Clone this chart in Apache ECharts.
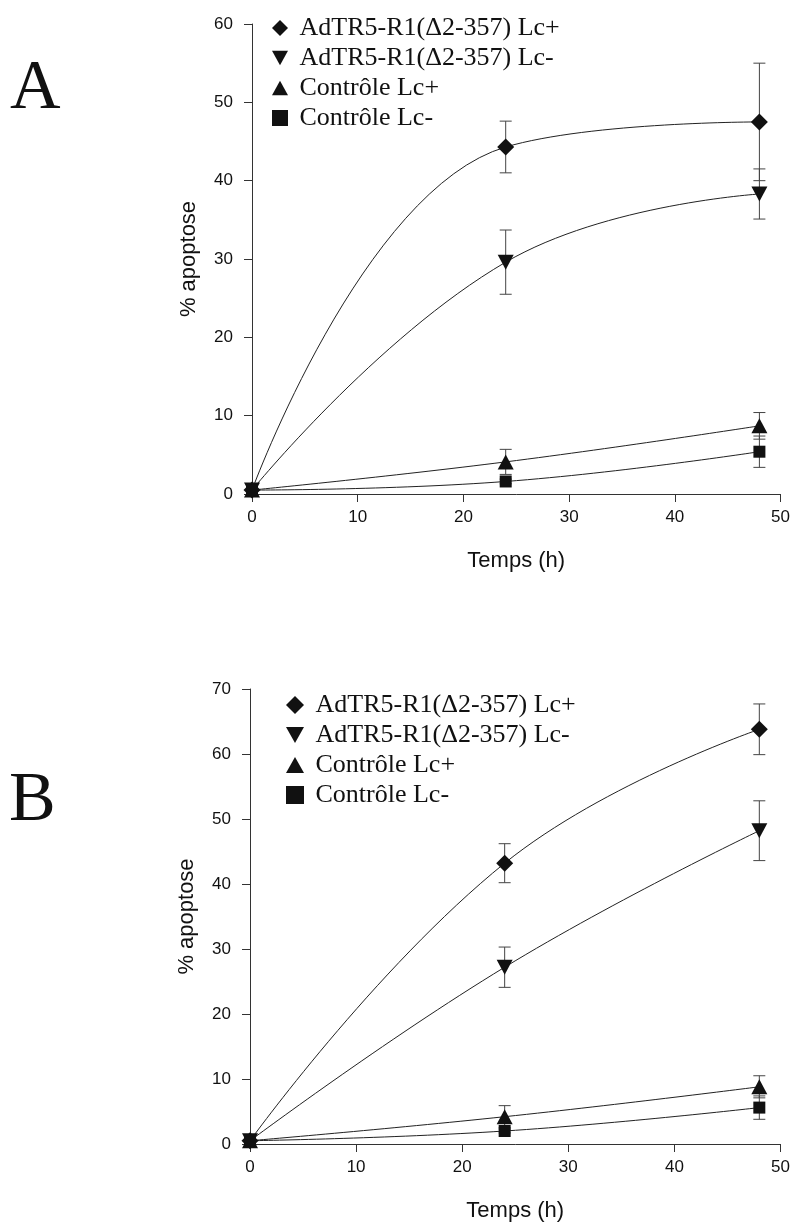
<!DOCTYPE html>
<html>
<head>
<meta charset="utf-8">
<script src="https://cdn.jsdelivr.net/npm/echarts@6/dist/echarts.min.js"></script>
<style>
html,body{margin:0;padding:0;background:#fff;}
#c{width:793px;height:1223px;}
</style>
</head>
<body>
<div id="c"></div>
<script>
// ---- data ----
const hours = [0, 24, 48];
const seriesNames = ['AdTR5-R1(\u03942-357) Lc+', 'AdTR5-R1(\u03942-357) Lc-', 'Contr\u00f4le Lc+', 'Contr\u00f4le Lc-'];

const A_lcPlus = [0.5, 44.3, 47.5];
const A_lcPlusErr = [0, 3.3, 7.5];
const A_lcMinus = [0.5, 29.6, 38.3];
const A_lcMinusErr = [0, 4.1, 3.2];
const A_ctrlPlus = [0.5, 4.1, 8.7];
const A_ctrlPlusErr = [0, 1.6, 1.7];
const A_ctrlMinus = [0.5, 1.6, 5.4];
const A_ctrlMinusErr = [0, 0.3, 2.0];

const B_lcPlus = [0.5, 43.2, 63.8];
const B_lcPlusErr = [0, 3.0, 3.9];
const B_lcMinus = [0.5, 27.2, 48.2];
const B_lcMinusErr = [0, 3.1, 4.6];
const B_ctrlPlus = [0.5, 4.2, 8.8];
const B_ctrlPlusErr = [0, 1.7, 1.7];
const B_ctrlMinus = [0.5, 2.0, 5.6];
const B_ctrlMinusErr = [0, 0.3, 1.8];

const downTri = 'path://M0,0 L10,0 L5,9 Z';
const upTri = 'path://M5,0 L10,9 L0,9 Z';
const symbols = ['diamond', downTri, upTri, 'rect'];
const symbolSizes = [17, [16, 15], [16, 15], 12];

const panels = [
  {vals: [A_lcPlus, A_lcMinus, A_ctrlPlus, A_ctrlMinus], errs: [A_lcPlusErr, A_lcMinusErr, A_ctrlPlusErr, A_ctrlMinusErr]},
  {vals: [B_lcPlus, B_lcMinus, B_ctrlPlus, B_ctrlMinus], errs: [B_lcPlusErr, B_lcMinusErr, B_ctrlPlusErr, B_ctrlMinusErr]}
];

const chart = echarts.init(document.getElementById('c'), null, {renderer: 'canvas'});

const axisLabelStyle = {color: '#111', fontFamily: 'Liberation Sans', fontSize: 17};
const nameStyle = {color: '#111', fontFamily: 'Liberation Sans', fontSize: 22};
const lineStyle = {color: '#333', width: 1};

function errRender(params, api) {
  const x = api.value(0), y = api.value(1), e = api.value(2);
  if (!e) return;
  const top = api.coord([x, y + e]);
  const bot = api.coord([x, y - e]);
  const hw = 6;
  const st = {stroke: '#444', lineWidth: 1};
  return {type: 'group', children: [
    {type: 'line', shape: {x1: top[0], y1: top[1], x2: bot[0], y2: bot[1]}, style: st},
    {type: 'line', shape: {x1: top[0] - hw, y1: top[1], x2: top[0] + hw, y2: top[1]}, style: st},
    {type: 'line', shape: {x1: bot[0] - hw, y1: bot[1], x2: bot[0] + hw, y2: bot[1]}, style: st}
  ]};
}

const series = [];
panels.forEach((p, pi) => {
  p.vals.forEach((v, si) => {
    series.push({
      name: seriesNames[si], type: 'line', xAxisIndex: pi, yAxisIndex: pi,
      data: hours.map((h, i) => [h, v[i]]),
      smooth: 0.45,
      symbol: symbols[si], symbolSize: symbolSizes[si], showSymbol: true,
      itemStyle: {color: '#111'},
      lineStyle: {color: '#222', width: 1},
      z: 3, animation: false
    });
    series.push({
      name: 'err' + pi + si, type: 'custom', xAxisIndex: pi, yAxisIndex: pi,
      data: hours.map((h, i) => [h, v[i], p.errs[si][i]]),
      renderItem: errRender, z: 2, animation: false, silent: true
    });
  });
});

const legendText = {fontFamily: 'Liberation Serif', fontSize: 26, color: '#111'};
const legendData = seriesNames.map((n, i) => ({name: n, icon: symbols[i]}));
const legendFmt = name => ' ' + name;

chart.setOption({
  animation: false,
  backgroundColor: '#fff',
  graphic: [
    {type: 'text', style: {x: 10, y: 90, text: 'A', font: '70px "Liberation Serif"', fill: '#111', verticalAlign: 'middle'}},
    {type: 'text', style: {x: 9, y: 802, text: 'B', font: '70px "Liberation Serif"', fill: '#111', verticalAlign: 'middle'}}
  ],
  legend: [
    {orient: 'vertical', left: 272, top: 15, padding: 0, itemWidth: 16, itemHeight: 16, itemGap: 4, data: legendData, formatter: legendFmt, textStyle: legendText, selectedMode: false},
    {orient: 'vertical', left: 286, top: 692, padding: 0, itemWidth: 18, itemHeight: 18, itemGap: 4, data: legendData, formatter: legendFmt, textStyle: legendText, selectedMode: false}
  ],
  grid: [
    {left: 252, right: 10, top: 24, height: 470},
    {left: 250, right: 12, top: 689, height: 455}
  ],
  xAxis: [0, 1].map(i => ({
    type: 'value', gridIndex: i, min: 0, max: 50, interval: 10,
    name: 'Temps (h)', nameLocation: 'middle', nameGap: 56, nameTextStyle: nameStyle,
    axisLine: {show: true, onZero: false, lineStyle: lineStyle},
    axisTick: {show: true, inside: false, length: 8, lineStyle: lineStyle},
    axisLabel: Object.assign({margin: 15}, axisLabelStyle), splitLine: {show: false}
  })),
  yAxis: [
    {type: 'value', gridIndex: 0, min: 0, max: 60, interval: 10},
    {type: 'value', gridIndex: 1, min: 0, max: 70, interval: 10}
  ].map(a => Object.assign(a, {
    name: '% apoptose', nameLocation: 'middle', nameGap: 52, nameRotate: 90, nameTextStyle: nameStyle,
    axisLine: {show: true, onZero: false, lineStyle: lineStyle},
    axisTick: {show: true, inside: false, length: 8, lineStyle: lineStyle},
    axisLabel: Object.assign({margin: 19}, axisLabelStyle), splitLine: {show: false}
  })),
  series: series
});
</script>
</body>
</html>
